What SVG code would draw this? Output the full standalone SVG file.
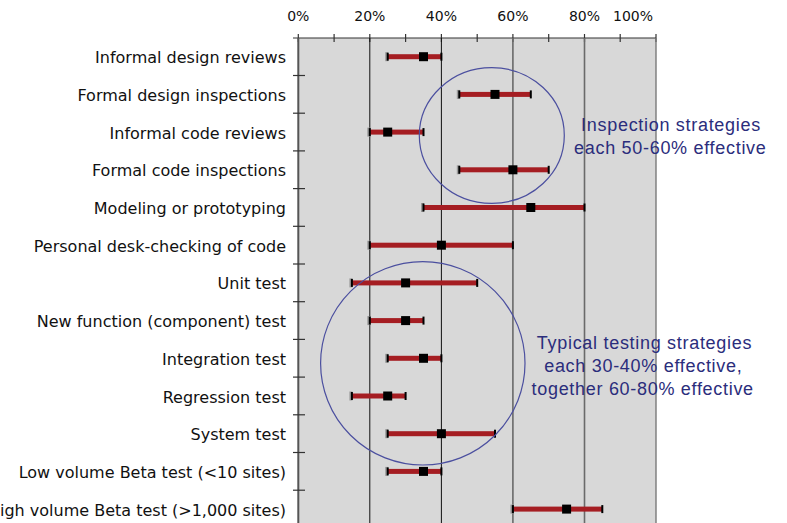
<svg xmlns="http://www.w3.org/2000/svg" width="787" height="523" viewBox="0 0 787 523">
<style>
.lbl{font-family:"DejaVu Sans","Verdana",sans-serif;font-size:16px;fill:#111;text-anchor:end}
.ax{font-family:"DejaVu Sans","Verdana",sans-serif;font-size:14px;fill:#111;text-anchor:middle}
.note{font-family:"Liberation Sans",Arial,sans-serif;font-size:18px;letter-spacing:0.7px;fill:#2b2d7c;text-anchor:middle}
.bar{fill:#a51d22}
.cap{fill:#000}
.halo{fill:#9a9a9a}
.mk{fill:#000}
.tick{stroke:#333;stroke-width:1.2}
.ring{fill:none;stroke:#4b4f9f;stroke-width:1.2}
</style>
<g id="plot">
<rect x="298.3" y="38" width="357.7" height="485" fill="#d8d8d8"/>
<line x1="293" y1="38" x2="656" y2="38" class="tick"/>
<g class="tick">
<line x1="298.3" y1="34" x2="298.3" y2="42"/><line x1="334.1" y1="34" x2="334.1" y2="42"/><line x1="369.8" y1="34" x2="369.8" y2="42"/><line x1="405.6" y1="34" x2="405.6" y2="42"/><line x1="441.4" y1="34" x2="441.4" y2="42"/><line x1="477.2" y1="34" x2="477.2" y2="42"/><line x1="512.9" y1="34" x2="512.9" y2="42"/><line x1="548.7" y1="34" x2="548.7" y2="42"/><line x1="584.5" y1="34" x2="584.5" y2="42"/><line x1="620.2" y1="34" x2="620.2" y2="42"/><line x1="656" y1="34" x2="656" y2="42"/>
</g>
<line x1="298.3" y1="38" x2="298.3" y2="523" stroke="#555" stroke-width="2"/>
<line x1="369.8" y1="38" x2="369.8" y2="523" stroke="#111" stroke-width="1"/>
<line x1="441.4" y1="38" x2="441.4" y2="523" stroke="#111" stroke-width="1"/>
<line x1="512.9" y1="38" x2="512.9" y2="523" stroke="#6a6a6a" stroke-width="1.6"/>
<line x1="584.5" y1="38" x2="584.5" y2="523" stroke="#6a6a6a" stroke-width="1.6"/>
<line x1="656" y1="38" x2="656" y2="523" stroke="#7a7a7a" stroke-width="1.4"/>
<g class="tick">
<line x1="293" y1="75.5" x2="305" y2="75.5"/><line x1="293" y1="113.2" x2="305" y2="113.2"/><line x1="293" y1="150.9" x2="305" y2="150.9"/><line x1="293" y1="188.6" x2="305" y2="188.6"/><line x1="293" y1="226.3" x2="305" y2="226.3"/><line x1="293" y1="264" x2="305" y2="264"/><line x1="293" y1="301.7" x2="305" y2="301.7"/><line x1="293" y1="339.4" x2="305" y2="339.4"/><line x1="293" y1="377.1" x2="305" y2="377.1"/><line x1="293" y1="414.8" x2="305" y2="414.8"/><line x1="293" y1="452.5" x2="305" y2="452.5"/><line x1="293" y1="490.2" x2="305" y2="490.2"/>
</g>
<text class="ax" x="298.3" y="21">0%</text>
<text class="ax" x="369.8" y="21">20%</text>
<text class="ax" x="441.4" y="21">40%</text>
<text class="ax" x="512.9" y="21">60%</text>
<text class="ax" x="584.5" y="21">80%</text>
<text class="ax" x="633" y="21">100%</text>
</g>
<g id="row-informal-design-reviews">
<text class="lbl" x="286" y="63.2">Informal design reviews</text>
<rect class="halo" x="385.2" y="52.2" width="3" height="9"/><rect class="bar" x="387.7" y="54.2" width="53.7" height="5"/><rect class="cap" x="386.7" y="52.7" width="2" height="8"/><rect class="cap" x="440.4" y="52.7" width="2" height="8"/><rect class="mk" x="419" y="52.2" width="9" height="9"/>
</g>
<g id="row-formal-design-inspections">
<text class="lbl" x="286" y="100.9">Formal design inspections</text>
<rect class="halo" x="456.8" y="89.9" width="3" height="9"/><rect class="bar" x="459.3" y="91.9" width="71.5" height="5"/><rect class="cap" x="458.3" y="90.4" width="2" height="8"/><rect class="cap" x="529.8" y="90.4" width="2" height="8"/><rect class="mk" x="490.5" y="89.9" width="9" height="9"/>
</g>
<g id="row-informal-code-reviews">
<text class="lbl" x="286" y="138.6">Informal code reviews</text>
<rect class="halo" x="367.3" y="127.6" width="3" height="9"/><rect class="bar" x="369.8" y="129.6" width="53.7" height="5"/><rect class="cap" x="368.8" y="128.1" width="2" height="8"/><rect class="cap" x="422.5" y="128.1" width="2" height="8"/><rect class="mk" x="383.2" y="127.6" width="9" height="9"/>
</g>
<g id="row-formal-code-inspections">
<text class="lbl" x="286" y="176.3">Formal code inspections</text>
<rect class="halo" x="456.8" y="165.3" width="3" height="9"/><rect class="bar" x="459.3" y="167.3" width="89.4" height="5"/><rect class="cap" x="458.3" y="165.8" width="2" height="8"/><rect class="cap" x="547.7" y="165.8" width="2" height="8"/><rect class="mk" x="508.4" y="165.3" width="9" height="9"/>
</g>
<g id="row-modeling-or-prototyping">
<text class="lbl" x="286" y="214">Modeling or prototyping</text>
<rect class="halo" x="421" y="203" width="3" height="9"/><rect class="bar" x="423.5" y="205" width="161" height="5"/><rect class="cap" x="422.5" y="203.5" width="2" height="8"/><rect class="cap" x="583.5" y="203.5" width="2" height="8"/><rect class="mk" x="526.3" y="203" width="9" height="9"/>
</g>
<g id="row-personal-desk-checking">
<text class="lbl" x="286" y="251.7">Personal desk-checking of code</text>
<rect class="halo" x="367.3" y="240.7" width="3" height="9"/><rect class="bar" x="369.8" y="242.7" width="143.1" height="5"/><rect class="cap" x="368.8" y="241.2" width="2" height="8"/><rect class="cap" x="511.9" y="241.2" width="2" height="8"/><rect class="mk" x="436.9" y="240.7" width="9" height="9"/>
</g>
<g id="row-unit-test">
<text class="lbl" x="286" y="289.4">Unit test</text>
<rect class="halo" x="349.4" y="278.4" width="3" height="9"/><rect class="bar" x="351.9" y="280.4" width="125.3" height="5"/><rect class="cap" x="350.9" y="278.9" width="2" height="8"/><rect class="cap" x="476.2" y="278.9" width="2" height="8"/><rect class="mk" x="401.1" y="278.4" width="9" height="9"/>
</g>
<g id="row-new-function-test">
<text class="lbl" x="286" y="327.1">New function (component) test</text>
<rect class="halo" x="367.3" y="316.1" width="3" height="9"/><rect class="bar" x="369.8" y="318.1" width="53.7" height="5"/><rect class="cap" x="368.8" y="316.6" width="2" height="8"/><rect class="cap" x="422.5" y="316.6" width="2" height="8"/><rect class="mk" x="401.1" y="316.1" width="9" height="9"/>
</g>
<g id="row-integration-test">
<text class="lbl" x="286" y="364.8">Integration test</text>
<rect class="halo" x="385.2" y="353.8" width="3" height="9"/><rect class="bar" x="387.7" y="355.8" width="53.7" height="5"/><rect class="cap" x="386.7" y="354.3" width="2" height="8"/><rect class="cap" x="440.4" y="354.3" width="2" height="8"/><rect class="mk" x="419" y="353.8" width="9" height="9"/>
</g>
<g id="row-regression-test">
<text class="lbl" x="286" y="402.5">Regression test</text>
<rect class="halo" x="349.4" y="391.5" width="3" height="9"/><rect class="bar" x="351.9" y="393.5" width="53.7" height="5"/><rect class="cap" x="350.9" y="392" width="2" height="8"/><rect class="cap" x="404.6" y="392" width="2" height="8"/><rect class="mk" x="383.2" y="391.5" width="9" height="9"/>
</g>
<g id="row-system-test">
<text class="lbl" x="286" y="440.2">System test</text>
<rect class="halo" x="385.2" y="429.2" width="3" height="9"/><rect class="bar" x="387.7" y="431.2" width="107.3" height="5"/><rect class="cap" x="386.7" y="429.7" width="2" height="8"/><rect class="cap" x="494" y="429.7" width="2" height="8"/><rect class="mk" x="436.9" y="429.2" width="9" height="9"/>
</g>
<g id="row-low-volume-beta">
<text class="lbl" x="286" y="477.9">Low volume Beta test (&lt;10 sites)</text>
<rect class="halo" x="385.2" y="466.9" width="3" height="9"/><rect class="bar" x="387.7" y="468.9" width="53.7" height="5"/><rect class="cap" x="386.7" y="467.4" width="2" height="8"/><rect class="cap" x="440.4" y="467.4" width="2" height="8"/><rect class="mk" x="419" y="466.9" width="9" height="9"/>
</g>
<g id="row-high-volume-beta">
<text class="lbl" x="286" y="515.6">High volume Beta test (&gt;1,000 sites)</text>
<rect class="halo" x="510.4" y="504.6" width="3" height="9"/><rect class="bar" x="512.9" y="506.6" width="89.4" height="5"/><rect class="cap" x="511.9" y="505.1" width="2" height="8"/><rect class="cap" x="601.3" y="505.1" width="2" height="8"/><rect class="mk" x="562.1" y="504.6" width="9" height="9"/>
</g>
<g id="inspection-group">
<ellipse class="ring" cx="491.8" cy="135.5" rx="72.5" ry="67.8"/>
<text class="note" x="671" y="131">Inspection strategies</text>
<text class="note" x="670.3" y="154">each 50-60% effective</text>
</g>
<g id="testing-group">
<ellipse class="ring" cx="422.8" cy="363.3" rx="102.2" ry="101.7"/>
<text class="note" x="644.5" y="349">Typical testing strategies</text>
<text class="note" x="643.3" y="372">each 30-40% effective,</text>
<text class="note" x="642.7" y="395">together 60-80% effective</text>
</g>
</svg>
